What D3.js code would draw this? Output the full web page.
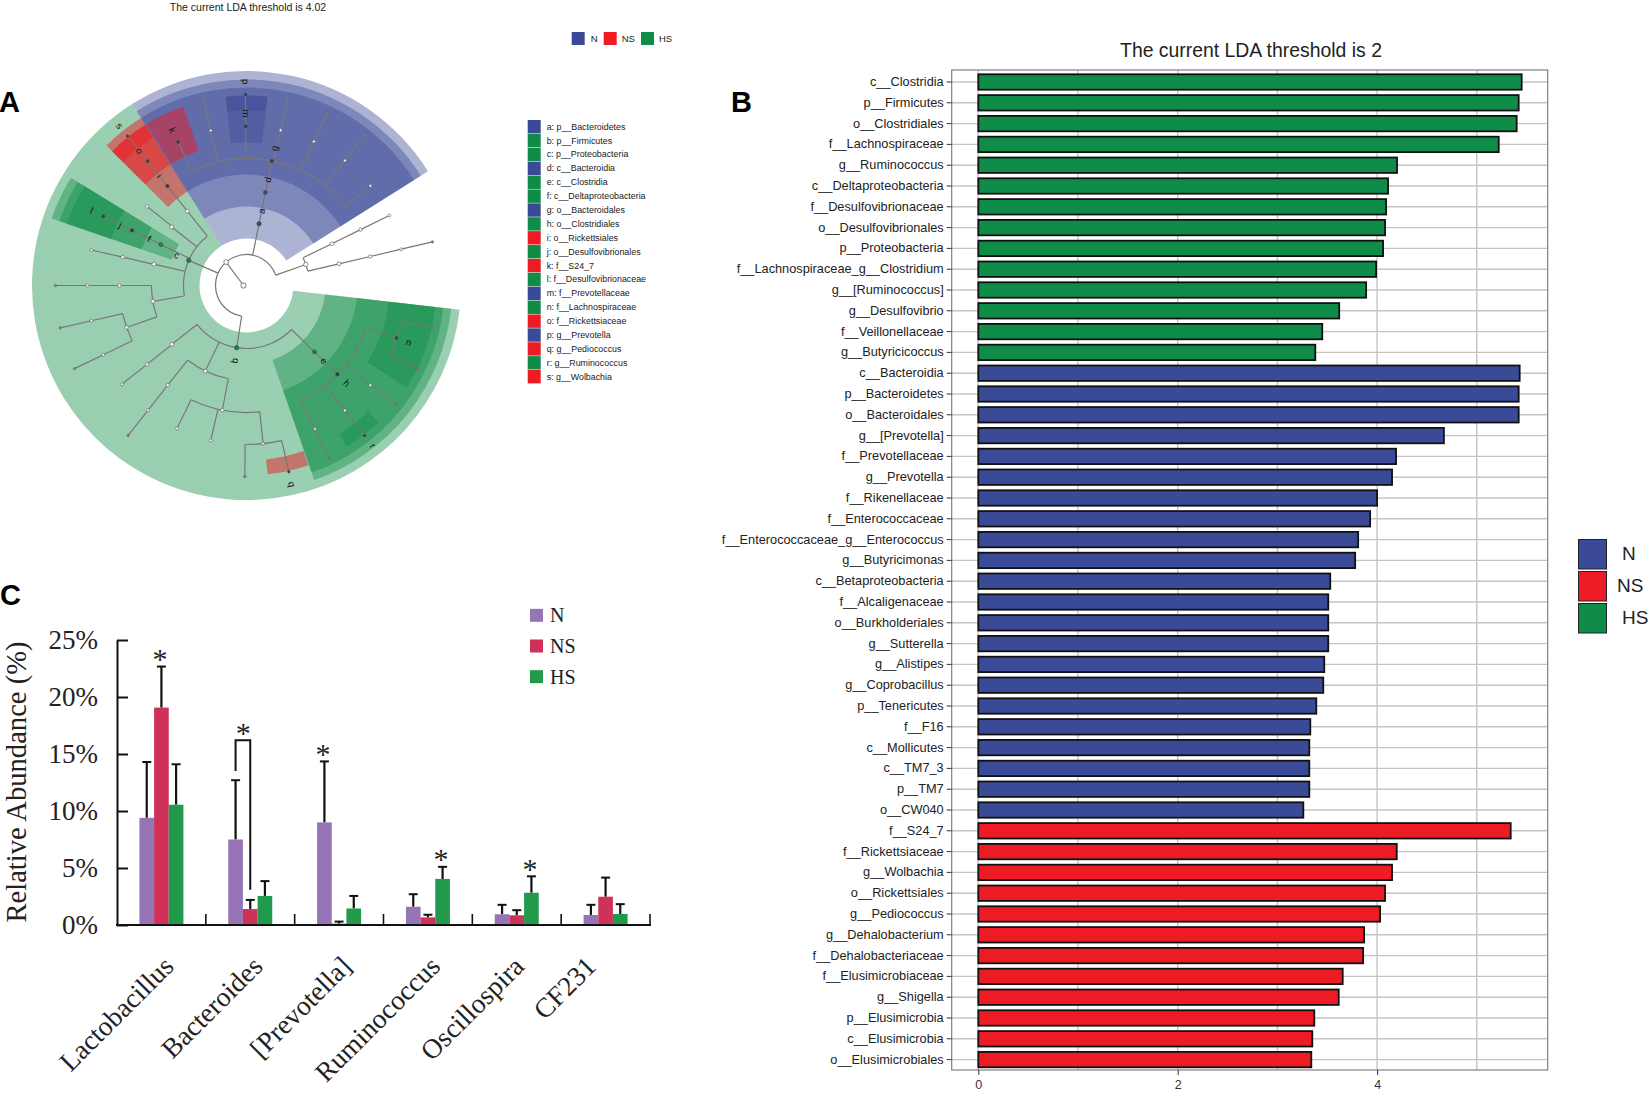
<!DOCTYPE html>
<html><head><meta charset="utf-8">
<script src="https://cdnjs.cloudflare.com/ajax/libs/d3/7.8.5/d3.min.js"></script>
<style>html,body{margin:0;padding:0;background:#fff}svg{display:block}text{font-family:"Liberation Sans",Arial,sans-serif;fill:#1a1a1a}.serif{font-family:"Liberation Serif","Times New Roman",serif}</style>
</head><body><svg id="c" width="1652" height="1106"></svg>
<script>
// ---------- shared
const groups = ["N","NS","HS"];
const groupFill = {N:"#3b4a96",NS:"#ed1c24",HS:"#0e8c48"};
const panelLetters = ["A","B","C"];

// ---------- panel A: cladogram
const titleA = "The current LDA threshold is 4.02";
const cladeNames = ["p__Bacteroidetes","p__Firmicutes","p__Proteobacteria","c__Bacteroidia","c__Clostridia","c__Deltaproteobacteria","o__Bacteroidales","o__Clostridiales","o__Rickettsiales","o__Desulfovibrionales","f__S24_7","f__Desulfovibrionaceae","f__Prevotellaceae","f__Lachnospiraceae","f__Rickettsiaceae","g__Prevotella","g__Pediococcus","g__Ruminococcus","g__Wolbachia"];
const cladeLetters = "abcdefghijklmnopqrs".split("");
const cladeGroups = ["N","HS","HS","N","HS","HS","N","HS","NS","HS","NS","HS","N","HS","NS","N","NS","HS","NS"];
const cladeStart = [-32.2,96.5,238,-32.2,96.5,-71,-32.2,96.5,-45,-71,-31.8,-71,-6.3,96.5,-45,-6.3,161,136,-45];
const cladeEnd   = [57.8,238.3,327.8,57.8,160.8,-58.5,57.8,160.8,-32.2,-58.5,-19.5,-58.5,6.3,122.5,-32.2,6.3,173.6,148,-32.2];
// tree: [angle in degrees clockwise from 12 o'clock, clade letter, ...children]
const cladeTree = [-41,"",
  [189,"b",
    [134.3,"e",[134.3,"h",
      [109.3,"n",[102.9,""],[115.9,""]],
      [128.8,"",[128.6,""]],
      [141.8,"",[141.8,"r"]],
      [154.5,"",[154.5,""]]]],
    [205.7,"",
      [218.3,"",[218.3,"",[218.3,""]]],
      [191,"",[205.9,""],[193,""],[174,"",[180.5,""],[167.2,"q"]]]],
    [231.8,"",[231.6,"",[231.6,""]]]],
  [-66.5,"c",
    [-38.5,"",[-38.5,"i",[-38.5,"o",[-38.5,"s"]]]],
    [-52,"",[-51.5,""]],
    [-64.5,"f",[-64.3,"j",[-64.2,"l"]]],
    [-77,"",[-77.1,"",[-77.1,""]]],
    [-99.6,"",[-90,"",[-90,"",[-90,""]]],[-109.3,"",[-102.8,"",[-102.8,""]],[-115.8,"",[-115.8,""]]]]],
  [11.5,"a",[11.5,"d",[11.5,"g",
      [-25.5,"k"],[-13,"",[-13,""]],[-0.3,"m",[-0.3,"p"]],[12.4,"",[12.5,""]],[25.1,"",[25.2,""]],[38.2,"",[38.2,""]],[51.2,""]]]],
  [70.5,"",[63.9,"",[63.9,"",[63.9,""]]],[76.8,"",[76.8,"",[76.8,"",[76.8,""]]]]]
];

// ---------- panel B: LDA bars
const titleB = "The current LDA threshold is 2";
const ldaTaxa = ["c__Clostridia","p__Firmicutes","o__Clostridiales","f__Lachnospiraceae","g__Ruminococcus","c__Deltaproteobacteria","f__Desulfovibrionaceae","o__Desulfovibrionales","p__Proteobacteria","f__Lachnospiraceae_g__Clostridium","g__[Ruminococcus]","g__Desulfovibrio","f__Veillonellaceae","g__Butyricicoccus",
"c__Bacteroidia","p__Bacteroidetes","o__Bacteroidales","g__[Prevotella]","f__Prevotellaceae","g__Prevotella","f__Rikenellaceae","f__Enterococcaceae","f__Enterococcaceae_g__Enterococcus","g__Butyricimonas","c__Betaproteobacteria","f__Alcaligenaceae","o__Burkholderiales","g__Sutterella","g__Alistipes","g__Coprobacillus","p__Tenericutes","f__F16","c__Mollicutes","c__TM7_3","p__TM7","o__CW040",
"f__S24_7","f__Rickettsiaceae","g__Wolbachia","o__Rickettsiales","g__Pediococcus","g__Dehalobacterium","f__Dehalobacteriaceae","f__Elusimicrobiaceae","g__Shigella","p__Elusimicrobia","c__Elusimicrobia","o__Elusimicrobiales"];
const ldaValues = [5.45,5.42,5.40,5.22,4.20,4.11,4.09,4.08,4.06,3.99,3.89,3.62,3.45,3.38,
5.43,5.42,5.42,4.67,4.19,4.15,4.00,3.93,3.81,3.78,3.53,3.51,3.51,3.51,3.47,3.46,3.39,3.33,3.32,3.32,3.32,3.26,
5.34,4.197,4.15,4.08,4.03,3.87,3.86,3.655,3.615,3.37,3.35,3.34];
const ldaGroupSizes = [["HS",14],["N",22],["NS",12]];
const ldaTicks = [0,2,4];
const ldaGrid = [0,1,2,3,4,5];

// ---------- panel C: abundance bars
const genera = ["Lactobacillus","Bacteroides","[Prevotella]","Ruminococcus","Oscillospira","CF231"];
const meanN  = [9.4,7.5,9.0,1.6,0.94,0.88];
const meanNS = [19.07,1.4,0.12,0.67,0.85,2.48];
const meanHS = [10.55,2.55,1.45,4.04,2.83,0.97];
const topN   = [14.3,12.7,14.35,2.7,1.77,1.77];
const topNS  = [22.67,2.2,0.3,0.9,1.3,4.16];
const topHS  = [14.1,3.85,2.55,5.1,4.27,1.83];
const starsAt = [["Lactobacillus","NS",22.67],["[Prevotella]","N",14.35],["Ruminococcus","HS",5.1],["Oscillospira","HS",4.27]];
const abundanceTicks = [0,5,10,15,20,25];
const abundanceFill = {N:"#9575b5",NS:"#cf3159",HS:"#219a4b"};

const svg = d3.select("#c");

// panel letters
svg.selectAll("text.pl").data(panelLetters).join("text").attr("class","pl")
  .attr("x",(d,i)=>[-1,731,0][i]).attr("y",(d,i)=>[112,112,605][i])
  .attr("font-size",29).attr("font-weight","bold").style("fill","#000").text(d=>d);

// ===== A =====
(function(){
  const cx=246.5, cy=285.5;
  const A = svg.append("g");
  A.append("text").attr("x",248).attr("y",11).attr("text-anchor","middle").attr("font-size",10.5).text(titleA);
  const lx=d3.scaleOrdinal().domain(groups).range([571.7,603.7,641]);
  const top=A.selectAll("g.tl").data(groups).join("g").attr("transform",d=>`translate(${lx(d)},32)`);
  top.append("rect").attr("width",13).attr("height",13).attr("fill",d=>groupFill[d]);
  top.append("text").attr("x",d=>d==="N"?19:18).attr("y",10).attr("font-size",9.5).text(d=>d);
  const ly=d3.scaleLinear().domain([0,18]).range([126.7,376.7]);
  const rows=A.selectAll("g.cl").data(cladeNames).join("g").attr("transform",(d,i)=>`translate(527.7,${ly(i)})`);
  rows.append("rect").attr("y",-6.7).attr("width",13).attr("height",13.4).attr("fill",(d,i)=>groupFill[cladeGroups[i]]);
  rows.append("text").attr("x",19).attr("y",3).attr("font-size",8.85).text((d,i)=>`${cladeLetters[i]}: ${d}`);

  const levelOf={p:2,c:3,o:4,f:5,g:6};
  const r=d3.scaleLinear().domain([1,6]).range([31,191]);
  const outerBand={2:214.5,3:206,4:198,5:190,6:190};
  const alphaOf={N:.42,HS:.42,NS:.5};
  const wedges=cladeNames.map((n,i)=>({level:levelOf[n[0]],group:cladeGroups[i],s:cladeStart[i],e:cladeEnd[i]}));
  const arc=d3.arc();
  const rad=d=>d*Math.PI/180;
  const W=A.append("g").attr("transform",`translate(${cx},${cy})`);
  d3.range(2,7).forEach(L=>{
    ["N","HS","NS"].forEach(gr=>{
      const lay=W.append("g").attr("opacity",alphaOf[gr]);
      lay.selectAll("path").data(wedges.filter(w=>w.level===L&&w.group===gr)).join("path")
        .attr("fill",groupFill[gr])
        .attr("d",w=>arc({innerRadius:r(L)-16,outerRadius:outerBand[L],startAngle:rad(w.s),endAngle:rad(w.e)}));
    });
  });
  const norm=a=>a>90?a-360:a;
  function toNode(t,level){
    const [angle,letter,...kids]=t;
    return {angle:norm(angle),letter,level,children:kids.map(k=>toNode(k,level+1))};
  }
  const rootNode=toNode(cladeTree,1);
  const pol=(rr,a)=>[rr*Math.sin(rad(a)),-rr*Math.cos(rad(a))];
  const T=A.append("g").attr("transform",`translate(${cx},${cy})`);
  const lp=d3.path(), nodes=[];
  (function walk(n){
    nodes.push(n);
    if(n.children.length){
      const rr=r(n.level);
      const as=n.children.map(c=>c.angle);
      const a0=Math.min(...as), a1=Math.max(...as);
      if(a1>a0) {
        const s=pol(rr,a0); lp.moveTo(s[0],s[1]);
        lp.arc(0,0,rr,rad(a0-90),rad(a1-90),false);
      }
      n.children.forEach(c=>{
        const p0=pol(rr,c.angle),p1=pol(r(c.level),c.angle);
        lp.moveTo(p0[0],p0[1]); lp.lineTo(p1[0],p1[1]);
        walk(c);
      });
    }
  })(rootNode);
  const k0=pol(r(1),rootNode.angle);
  lp.moveTo(-3,0); lp.lineTo(k0[0],k0[1]);
  T.append("path").attr("d",lp.toString()).attr("fill","none").attr("stroke","#787878").attr("stroke-width",1.2);
  const letterGroup={}; cladeLetters.forEach((l,i)=>letterGroup[l]=cladeGroups[i]);
  const nodeR=d3.scaleLinear().domain([1,6]).range([2.4,1.2]);
  T.selectAll("circle.n").data(nodes).join("circle")
    .attr("cx",d=>pol(r(d.level),d.angle)[0]).attr("cy",d=>pol(r(d.level),d.angle)[1])
    .attr("r",d=>nodeR(d.level))
    .attr("fill",d=>d.letter?(d.level>=4?"#2e3a4a":groupFill[letterGroup[d.letter]]):(d.level>=6?"#888":"#fff"))
    .attr("stroke",d=>d.letter?"#444":"#666").attr("stroke-width",.7);
  T.append("circle").attr("cx",-3).attr("cy",0).attr("r",2.6).attr("fill","#fff").attr("stroke","#555").attr("stroke-width",.8);
  T.selectAll("text.lb").data(nodes.filter(n=>n.letter)).join("text")
    .attr("font-size",9.5).attr("text-anchor","middle").attr("dy","0.33em").style("fill","#111")
    .attr("transform",d=>{const p=pol(r(d.level)+13,d.angle);
       const ang=((d.angle<0&&d.angle>-180)?d.angle+90:d.angle-90);
       return `translate(${p[0]},${p[1]}) rotate(${ang})`;})
    .text(d=>d.letter);
})();

// ===== B =====
(function(){
  const L=951.7,R=1547.7,T=70,Bo=1070;
  const x=d3.scaleLinear().domain([0,5]).range([978.3,1476.8]);
  const y=d3.scaleBand().domain(ldaTaxa).range([71.6,71.6+20.8*48]);
  const B=svg.append("g");
  B.append("text").attr("x",1251).attr("y",57).attr("text-anchor","middle").attr("font-size",19.4).style("fill","#222").text(titleB);
  B.append("g").selectAll("line").data(ldaTaxa).join("line")
    .attr("x1",L).attr("x2",R).attr("y1",d=>y(d)+y.bandwidth()/2).attr("y2",d=>y(d)+y.bandwidth()/2)
    .attr("stroke","#c4c4c4").attr("stroke-width",1.4);
  B.append("g").selectAll("line").data(ldaGrid).join("line")
    .attr("x1",d=>x(d)).attr("x2",d=>x(d)).attr("y1",T).attr("y2",Bo)
    .attr("stroke","#c4c4c4").attr("stroke-width",1.4);
  B.append("rect").attr("x",L).attr("y",T).attr("width",R-L).attr("height",Bo-T).attr("fill","none").attr("stroke","#808080").attr("stroke-width",1.2);
  let running=[];
  ldaGroupSizes.forEach(([g,n])=>{for(let i=0;i<n;i++)running.push(g);});
  B.append("g").selectAll("rect").data(ldaTaxa).join("rect")
    .attr("x",x(0)).attr("width",(d,i)=>x(ldaValues[i])-x(0))
    .attr("y",d=>y(d)+y.bandwidth()/2-7.7).attr("height",15.4)
    .attr("fill",(d,i)=>groupFill[running[i]]).attr("stroke","#111").attr("stroke-width",1.8);
  const ya=B.append("g").attr("transform",`translate(${L},0)`).call(d3.axisLeft(y).tickSize(5).tickPadding(3));
  ya.select(".domain").remove();
  ya.selectAll("line").attr("stroke","#333").attr("stroke-width",1);
  ya.selectAll("text").attr("font-size",12.75).attr("font-family",'"Liberation Sans",Arial,sans-serif').style("fill","#222");
  const xa=B.append("g").attr("transform",`translate(0,${Bo})`).call(d3.axisBottom(x).tickValues(ldaTicks).tickFormat(d3.format("d")).tickSize(5).tickPadding(5));
  xa.select(".domain").remove();
  xa.selectAll("line").attr("stroke","#333");
  xa.selectAll("text").attr("font-size",12.5).attr("font-family",'"Liberation Sans",Arial,sans-serif').style("fill","#333");
  const ly=d3.scaleBand().domain(groups).range([539,635]);
  const lg=B.selectAll("g.lg").data(groups).join("g").attr("transform",d=>`translate(1578,${ly(d)})`);
  lg.append("rect").attr("x",.5).attr("y",.5).attr("width",28).attr("height",29.5).attr("fill",d=>groupFill[d]).attr("stroke","#222").attr("stroke-width",1);
  lg.append("text").attr("x",d=>d==="N"?44:d==="NS"?39:44).attr("y",21).attr("font-size",19).style("fill","#222").text(d=>d);
})();

// ===== C =====
(function(){
  const series={N:[meanN,topN],NS:[meanNS,topNS],HS:[meanHS,topHS]};
  const x=d3.scaleBand().domain(genera).range([117,650]);
  const x1=d3.scaleBand().domain(groups).range([-22,22]);
  const y=d3.scaleLinear().domain([0,25]).range([925,640]);
  const C=svg.append("g");
  const flat=[];
  groups.forEach(g=>genera.forEach((n,i)=>flat.push({g,n,v:series[g][0][i],t:series[g][1][i]})));
  const mid=d=>x(d.n)+x.bandwidth()/2+x1(d.g)+x1.bandwidth()/2;
  C.append("g").selectAll("line").data(flat).join("line")
    .attr("x1",mid).attr("x2",mid)
    .attr("y1",d=>y(d.v)).attr("y2",d=>y(d.t)).attr("stroke","#111").attr("stroke-width",2.2);
  C.append("g").selectAll("line").data(flat).join("line")
    .attr("x1",d=>mid(d)-4.5).attr("x2",d=>mid(d)+4.5)
    .attr("y1",d=>y(d.t)).attr("y2",d=>y(d.t)).attr("stroke","#111").attr("stroke-width",2);
  C.append("g").selectAll("rect").data(flat).join("rect")
    .attr("x",d=>x(d.n)+x.bandwidth()/2+x1(d.g)).attr("width",x1.bandwidth())
    .attr("y",d=>y(d.v)).attr("height",d=>y(0)-y(d.v)).attr("fill",d=>abundanceFill[d.g]);
  const ya=C.append("g").attr("transform","translate(117,0)").call(d3.axisLeft(y).tickValues(abundanceTicks).tickFormat(d=>d+"%").tickSize(0).tickPadding(19));
  ya.select(".domain").attr("stroke","#111").attr("stroke-width",2);
  ya.selectAll("line").attr("x2",11).attr("stroke","#111").attr("stroke-width",2);
  ya.selectAll("text").attr("class","serif").attr("font-size",27).attr("font-family",'"Liberation Serif",serif').style("fill","#222");
  C.append("line").attr("x1",116).attr("x2",651).attr("y1",y(0)).attr("y2",y(0)).attr("stroke","#111").attr("stroke-width",2);
  C.append("g").selectAll("line").data(genera.slice(1).concat("end")).join("line")
    .attr("x1",(d,i)=>x.range()[0]+x.bandwidth()*(i+1)).attr("x2",(d,i)=>x.range()[0]+x.bandwidth()*(i+1))
    .attr("y1",y(0)).attr("y2",y(0)-11).attr("stroke","#111").attr("stroke-width",1.6);
  C.append("text").attr("class","serif").attr("transform","translate(26,782) rotate(-90)").attr("text-anchor","middle")
    .attr("font-size",28.6).style("fill","#222").text("Relative Abundance (%)");
  const labelNudge=d=>d==="CF231"?-22:d==="Oscillospira"?-5:0;
  C.selectAll("text.cat").data(genera).join("text").attr("class","serif cat")
    .attr("text-anchor","end").attr("font-size",27.5).style("fill","#222")
    .attr("transform",d=>`translate(${x(d)+x.bandwidth()/2+14+labelNudge(d)},${968}) rotate(-45)`).text(d=>d);
  const starPos=d=>x(d[0])+x.bandwidth()/2+x1(d[1])+x1.bandwidth()/2-1.5;
  C.selectAll("text.st").data(starsAt).join("text").attr("class","serif st").attr("text-anchor","middle").attr("font-size",30).style("fill","#222")
    .attr("x",starPos).attr("y",d=>y(d[2])+2.5).text("*");
  const bx=x("Bacteroides")+x.bandwidth()/2;
  const bxN=bx+x1("N")+x1.bandwidth()/2, bxNS=bx+x1("NS")+x1.bandwidth()/2;
  const br=d3.path(); br.moveTo(bxN,y(13.5)); br.lineTo(bxN,y(16.2)); br.lineTo(bxNS,y(16.2)); br.lineTo(bxNS,y(3.1));
  C.append("path").attr("d",br.toString()).attr("fill","none").attr("stroke","#111").attr("stroke-width",2);
  C.append("text").attr("class","serif").attr("x",bx-7).attr("y",y(16.2)+3).attr("text-anchor","middle").attr("font-size",30).style("fill","#222").text("*");
  const ly=d3.scaleBand().domain(groups).range([600,692]);
  const lg=C.selectAll("g.lc").data(groups).join("g").attr("transform",d=>`translate(530,${ly(d)+ly.bandwidth()/2})`);
  lg.append("rect").attr("y",-6.5).attr("width",13).attr("height",13).attr("fill",d=>abundanceFill[d]);
  lg.append("text").attr("class","serif").attr("x",20).attr("y",7).attr("font-size",20).style("fill","#222").text(d=>d);
})();
</script></body></html>
